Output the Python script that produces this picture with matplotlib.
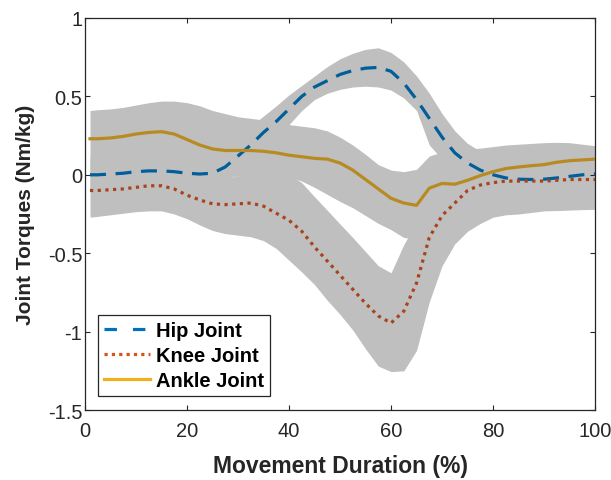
import matplotlib
matplotlib.use('Agg')
import matplotlib.pyplot as plt
from matplotlib.lines import Line2D

plt.rcParams['font.family'] = ['Liberation Sans', 'DejaVu Sans']
plt.rcParams['axes.unicode_minus'] = False

# ---- data ----
x = [1, 2.5, 5, 7.5, 10, 12.5, 15, 17.5, 20, 22.5, 25, 27.5, 30, 32.5, 35, 37.5, 40,
     42.5, 45, 47.5, 50, 52.5, 55, 57.5, 60, 62.5, 65, 67.5, 70, 72.5, 75, 77.5, 80,
     82.5, 85, 87.5, 90, 92.5, 95, 97.5, 100]

hip_mean = [0.0, 0.0, 0.005, 0.01, 0.02, 0.025, 0.025, 0.02, 0.01, 0.005, 0.01, 0.05, 0.12,
            0.19, 0.27, 0.34, 0.42, 0.5, 0.56, 0.6, 0.64, 0.665, 0.68, 0.685, 0.66, 0.585,
            0.48, 0.36, 0.24, 0.14, 0.075, 0.03, 0.0, -0.02, -0.028, -0.03, -0.028, -0.02,
            -0.01, 0.0, 0.005]
hip_upper = [0.12, 0.12, 0.125, 0.13, 0.14, 0.145, 0.145, 0.14, 0.13, 0.125, 0.13, 0.17, 0.24,
             0.31, 0.375, 0.44, 0.51, 0.57, 0.63, 0.69, 0.74, 0.775, 0.8, 0.81, 0.78, 0.72,
             0.63, 0.52, 0.39, 0.28, 0.2, 0.15, 0.12, 0.1, 0.09, 0.09, 0.09, 0.1, 0.11,
             0.12, 0.125]
hip_lower = [-0.1, -0.1, -0.095, -0.09, -0.08, -0.075, -0.075, -0.08, -0.09, -0.095, -0.09,
             -0.05, 0.02, 0.09, 0.17, 0.24, 0.32, 0.41, 0.48, 0.52, 0.545, 0.56, 0.565, 0.56,
             0.54, 0.49, 0.41, 0.19, 0.1, 0.02, -0.04, -0.08, -0.1, -0.12, -0.13, -0.13,
             -0.13, -0.12, -0.11, -0.1, -0.1]

knee_mean = [-0.1, -0.1, -0.095, -0.09, -0.08, -0.07, -0.07, -0.09, -0.13, -0.16, -0.185,
             -0.19, -0.185, -0.18, -0.2, -0.245, -0.29, -0.36, -0.46, -0.55, -0.64, -0.73,
             -0.82, -0.9, -0.945, -0.87, -0.69, -0.4, -0.26, -0.18, -0.1, -0.065, -0.05,
             -0.04, -0.04, -0.04, -0.04, -0.035, -0.03, -0.03, -0.03]
knee_upper = [0.07, 0.07, 0.075, 0.08, 0.09, 0.1, 0.1, 0.08, 0.04, 0.01, -0.01, -0.015, -0.01,
              0.0, 0.0, 0.0, 0.0, -0.05, -0.14, -0.226, -0.314, -0.4, -0.49, -0.58, -0.625,
              -0.445, -0.3, -0.15, -0.06, 0.0, 0.05, 0.06, 0.08, 0.09, 0.1, 0.1, 0.1, 0.1,
              0.1, 0.1, 0.1]
knee_lower = [-0.27, -0.265, -0.255, -0.245, -0.235, -0.23, -0.23, -0.25, -0.28, -0.32, -0.355,
              -0.375, -0.385, -0.395, -0.42, -0.47, -0.545, -0.62, -0.7, -0.8, -0.89, -0.99,
              -1.11, -1.22, -1.255, -1.25, -1.12, -0.81, -0.58, -0.44, -0.36, -0.31, -0.27,
              -0.255, -0.25, -0.24, -0.23, -0.228, -0.225, -0.222, -0.22]

ankle_mean = [0.23, 0.23, 0.235, 0.245, 0.26, 0.27, 0.275, 0.26, 0.225, 0.19, 0.165, 0.155,
              0.155, 0.155, 0.15, 0.14, 0.125, 0.115, 0.105, 0.1, 0.075, 0.03, -0.03, -0.09,
              -0.15, -0.18, -0.195, -0.085, -0.055, -0.06, -0.035, -0.005, 0.02, 0.04, 0.05,
              0.058, 0.065, 0.08, 0.09, 0.095, 0.1]
ankle_upper = [0.41, 0.415, 0.42, 0.43, 0.445, 0.46, 0.47, 0.47, 0.46, 0.44, 0.41, 0.39, 0.37,
               0.36, 0.35, 0.335, 0.32, 0.31, 0.3, 0.28, 0.24, 0.19, 0.13, 0.065, 0.03, 0.02,
               0.035, 0.12, 0.145, 0.155, 0.165, 0.17, 0.18, 0.19, 0.195, 0.2, 0.205, 0.207,
               0.205, 0.195, 0.186]
ankle_lower = [0.06, 0.06, 0.065, 0.075, 0.09, 0.1, 0.105, 0.09, 0.055, 0.02, 0.0, -0.01,
               -0.01, -0.01, -0.01, -0.015, -0.015, -0.04, -0.08, -0.125, -0.17, -0.21, -0.26,
               -0.31, -0.35, -0.4, -0.41, -0.3, -0.25, -0.24, -0.2, -0.17, -0.14, -0.12, -0.11,
               -0.1, -0.09, -0.08, -0.07, -0.06, -0.05]

labels = ['Hip Joint', 'Knee Joint', 'Ankle Joint']
xticks = [0, 20, 40, 60, 80, 100]
yticks = [-1.5, -1, -0.5, 0, 0.5, 1]
yticklabels = ['-1.5', '-1', '-0.5', '0', '0.5', '1']

# ---- styles ----
band_color = '#BFBFBF'
line_colors = ['#005E9A', '#A8431D', '#B78B22']
legend_colors = ['#0072BD', '#D95319', '#EDB120']
txt = '#262626'

fig = plt.figure(figsize=(6.11, 4.81), dpi=100)
ax = fig.add_axes([0.139, 0.1455, 0.974 - 0.139, 0.9605 - 0.1455])

for lo, up in [(hip_lower, hip_upper), (knee_lower, knee_upper), (ankle_lower, ankle_upper)]:
    ax.fill_between(x, lo, up, color=band_color, linewidth=0, zorder=1)

lw = 2.3
ax.plot(x, hip_mean, color=line_colors[0], lw=lw, linestyle=(0, (5.0, 3.0)),
        dash_capstyle='butt', zorder=3)
ax.plot(x, knee_mean, color=line_colors[1], lw=lw, linestyle=(0, (1, 1.4)),
        dash_capstyle='butt', zorder=3)
ax.plot(x, ankle_mean, color=line_colors[2], lw=lw, linestyle='-', zorder=3)

ax.set_xlim(0, 100)
ax.set_ylim(-1.5, 1)
ax.set_xticks(xticks)
ax.set_xticklabels([str(t) for t in xticks])
ax.set_yticks(yticks)
ax.set_yticklabels(yticklabels)
ax.tick_params(direction='in', length=3.6, width=0.8, top=True, right=True,
               labelsize=14.5, colors=txt)
ax.tick_params(axis='x', pad=8)
ax.tick_params(axis='y', pad=2)
for s in ax.spines.values():
    s.set_color(txt)
    s.set_linewidth(0.9)

ax.set_xlabel('Movement Duration (%)', fontsize=16.5, fontweight='bold', color=txt, labelpad=10)
ax.set_ylabel('Joint Torques (Nm/kg)', fontsize=15, fontweight='bold', color=txt, labelpad=9)

handles = [
    Line2D([], [], color=legend_colors[0], lw=lw, linestyle=(0, (3.9, 5.0)), dash_capstyle='butt'),
    Line2D([], [], color=legend_colors[1], lw=lw, linestyle=(0, (1, 1.3)), dash_capstyle='butt'),
    Line2D([], [], color=legend_colors[2], lw=lw, linestyle='-'),
]
leg = ax.legend(handles, labels, loc='lower left', bbox_to_anchor=(0.0255, 0.0357),
                borderaxespad=0, frameon=True, fancybox=False, framealpha=1,
                edgecolor='#262626', prop={'weight': 'bold', 'size': 14.5},
                handlelength=2.3, handletextpad=0.3, labelspacing=0.3, borderpad=0.3)
leg.get_frame().set_linewidth(0.9)

fig.savefig('out.png', dpi=100)
